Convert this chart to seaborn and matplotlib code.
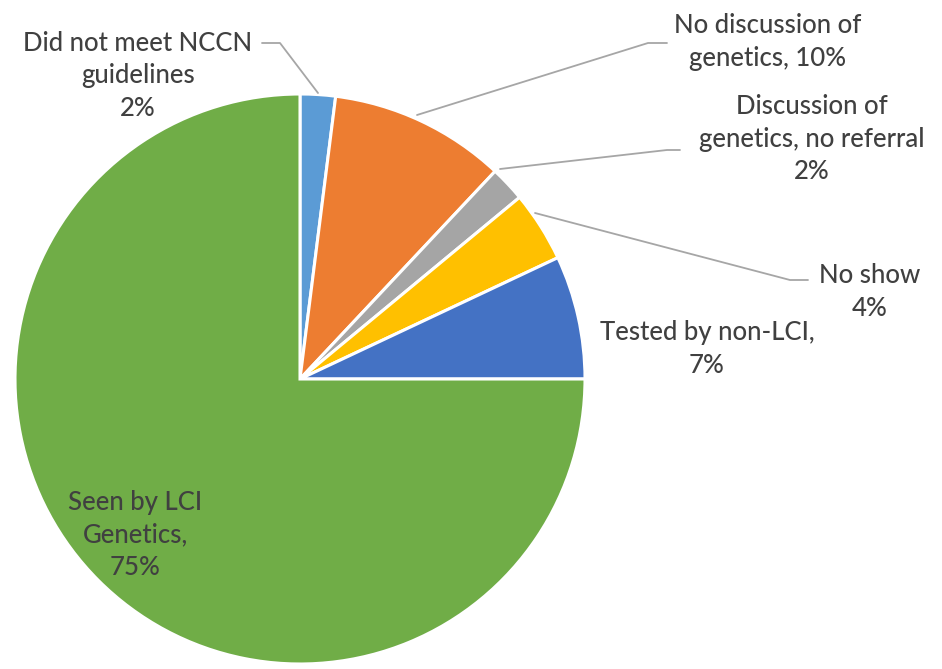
import matplotlib
matplotlib.use("Agg")
import matplotlib.pyplot as plt
import seaborn as sns

labels = ["Did not meet NCCN\nguidelines\n2%",
          "No discussion of\ngenetics, 10%",
          "Discussion of\ngenetics, no referral\n2%",
          "No show\n4%",
          "Tested by non-LCI,\n7%",
          "Seen by LCI\nGenetics,\n75%"]
values = [2, 10, 2, 4, 7, 75]
colors = ["#5B9BD5", "#ED7D31", "#A5A5A5", "#FFC000", "#4472C4", "#70AD47"]

sns.set_theme(style="white")
plt.rcParams['font.family'] = ['Lato', 'DejaVu Sans']

fig = plt.figure(figsize=(9.42, 6.69), dpi=100)
# pie centre at pixel (300, 379), radius 285 px
cx, cy, r = 300, 379, 285
ax = fig.add_axes([(cx - r) / 942, (669 - cy - r) / 669, 2 * r / 942, 2 * r / 669])
ax.pie(values, colors=sns.color_palette(colors), startangle=90, counterclock=False,
       radius=1, wedgeprops=dict(edgecolor="white", linewidth=2.2))
ax.set_xlim(-1, 1)
ax.set_ylim(-1, 1)
ax.set_aspect("equal")
ax.axis("off")


def P(px, py):
    return ((px - cx) / r, (cy - py) / r)


# label centres in pixel coordinates
label_pos = [(138, 76), (768, 42), (812, 139), (870, 292), (707, 349), (135, 535)]
for lab, (px, py) in zip(labels, label_pos):
    x, y = P(px, py)
    ax.text(x, y, lab, ha="center", va="center", fontsize=18.5, color="#404040",
            fontweight="medium", linespacing=1.36, clip_on=False)

leaders = [
    [(262, 43), (280, 43), (318, 93)],
    [(667, 43), (648, 43), (417, 115)],
    [(680, 150), (667, 150), (500, 169)],
    [(535, 213), (790, 280), (808, 280)],
]
for pts in leaders:
    xs, ys = zip(*[P(a, b) for a, b in pts])
    ax.plot(xs, ys, color="#A6A6A6", lw=1.3, clip_on=False)

fig.savefig("out.png", dpi=100, facecolor="white")
